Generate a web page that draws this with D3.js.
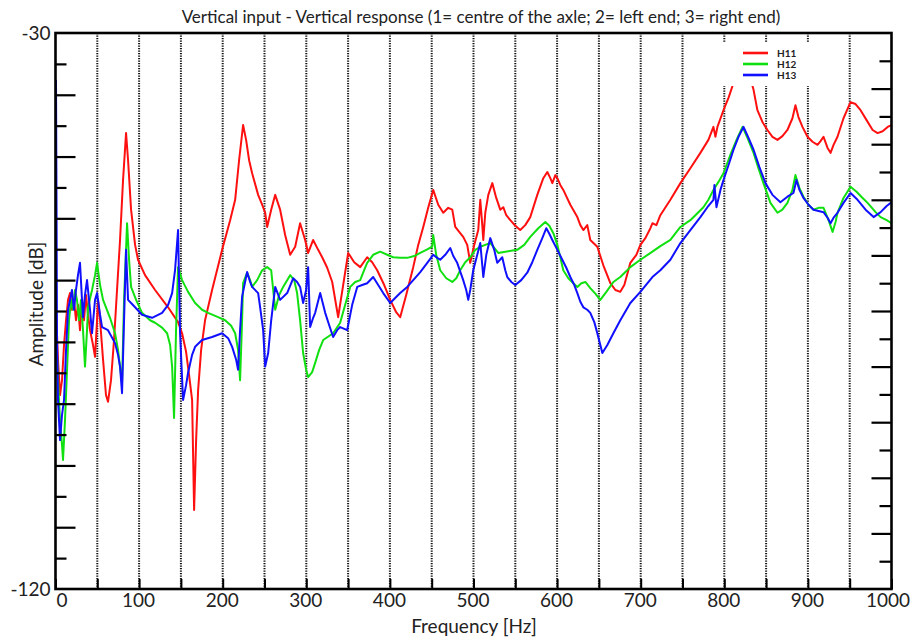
<!DOCTYPE html>
<html><head><meta charset="utf-8">
<script src="https://cdn.jsdelivr.net/npm/d3@7"></script>
<style>
html,body{margin:0;padding:0;background:#fff;}
svg{display:block;}
text{font-family:Lato,"Open Sans",sans-serif;fill:#222;}
</style></head>
<body>
<svg id="chart" width="921" height="637"></svg>
<script>
const title = "Vertical input - Vertical response (1= centre of the axle; 2= left end; 3= right end)";
const xLabel = "Frequency [Hz]";
const yLabel = "Amplitude [dB]";
const xDomain = [0, 1000];
const yDomain = [-120, -30];
const xTickLabels = [0,100,200,300,400,500,600,700,800,900,1000];
const yTickLabels = [-30, -120];
const seriesNames = ["H11","H12","H13"];
const seriesColors = ["#ff1010","#10e010","#1010ff"];

// [frequency Hz, amplitude dB]
const H11 = [[0.6,-74.8],[3.0,-82.9],[5.4,-88.6],[7.8,-86.2],[10.2,-80.5],[12.6,-76.5],[15.0,-73.2],[17.4,-72.1],[19.7,-74.8],[22.1,-73.2],[24.5,-76.5],[26.9,-74.0],[29.3,-78.1],[31.7,-73.2],[34.1,-76.5],[36.5,-72.4],[38.9,-75.6],[41.3,-78.1],[44.9,-80.5],[47.3,-82.4],[49.7,-76.5],[50.9,-73.2],[53.3,-76.5],[56.9,-82.9],[60.4,-88.6],[62.8,-89.7],[66.4,-86.2],[70.0,-79.7],[73.6,-71.6],[77.2,-63.5],[80.8,-53.8],[84.4,-46.2],[86.8,-50.6],[90.4,-58.6],[95.2,-64.3],[98.7,-66.7],[107.1,-69.2],[119.1,-71.6],[134.7,-74.4],[146.6,-76.8],[151.4,-78.6],[156.2,-81.6],[159.8,-85.4],[163.4,-89.4],[165.8,-107.2],[168.2,-95.9],[170.6,-87.8],[174.2,-81.3],[178.9,-76.5],[187.3,-71.6],[199.3,-65.1],[208.9,-60.3],[214.9,-57.0],[219.6,-50.6],[224.4,-44.9],[228.0,-47.3],[231.6,-50.6],[235.2,-52.7],[242.4,-56.2],[247.2,-57.8],[250.8,-59.1],[253.2,-61.4],[258.0,-58.6],[262.8,-56.2],[268.7,-58.6],[274.7,-62.7],[280.7,-65.9],[286.7,-64.6],[292.6,-60.8],[298.6,-63.5],[302.2,-65.6],[308.2,-63.5],[314.2,-65.1],[319.0,-66.3],[325.0,-68.0],[331.0,-70.3],[338.1,-76.0],[344.1,-70.8],[350.1,-65.6],[357.3,-67.1],[364.5,-67.9],[372.8,-66.3],[378.8,-67.1],[384.8,-68.4],[393.2,-70.8],[400.4,-73.2],[407.5,-75.2],[412.3,-76.0],[419.5,-72.4],[427.9,-67.9],[433.9,-64.3],[439.9,-61.4],[445.8,-58.3],[451.8,-55.4],[457.8,-57.8],[463.8,-59.1],[469.8,-58.3],[474.6,-58.6],[478.2,-61.4],[482.9,-62.2],[487.7,-63.0],[492.5,-64.3],[496.1,-67.2],[500.9,-64.3],[505.7,-61.9],[508.1,-57.0],[510.5,-61.1],[511.7,-63.5],[514.1,-59.1],[517.7,-56.2],[522.5,-54.3],[527.2,-56.7],[532.0,-58.6],[535.6,-58.2],[539.2,-59.5],[544.0,-60.3],[550.0,-61.2],[555.9,-61.9],[561.9,-61.1],[567.9,-59.8],[576.3,-56.2],[583.5,-53.5],[588.3,-52.5],[591.9,-53.5],[594.3,-54.3],[597.9,-53.0],[600.3,-53.5],[603.8,-54.6],[607.4,-55.4],[615.8,-57.8],[624.2,-59.8],[627.8,-61.1],[631.4,-61.9],[636.1,-61.1],[639.7,-63.5],[648.1,-64.6],[655.3,-67.6],[663.7,-70.5],[669.7,-71.6],[675.6,-71.9],[680.4,-70.8],[685.2,-68.4],[687.6,-67.2],[694.8,-65.9],[699.6,-64.3],[705.6,-63.2],[711.6,-61.6],[714.0,-60.8],[718.8,-61.1],[723.5,-59.5],[735.5,-57.0],[747.5,-54.3],[759.4,-51.9],[771.4,-49.4],[781.0,-47.3],[787.0,-45.2],[789.4,-46.8],[791.8,-45.2],[799.0,-42.5],[805.0,-40.5],[811.0,-38.1],[817.0,-35.7],[823.0,-34.7],[829.0,-36.3],[835.0,-39.2],[839.6,-42.5],[845.6,-44.4],[851.6,-45.7],[857.6,-46.8],[863.6,-47.3],[869.5,-46.7],[875.5,-45.7],[881.5,-43.8],[885.1,-41.7],[888.7,-43.6],[893.5,-45.2],[899.5,-46.8],[905.5,-47.6],[911.5,-48.1],[915.1,-47.5],[918.7,-46.8],[923.5,-48.6],[927.1,-49.4],[930.7,-48.1],[935.4,-46.8],[942.6,-43.8],[951.0,-41.2],[957.0,-41.5],[963.0,-42.5],[970.2,-44.1],[977.4,-45.7],[983.4,-46.2],[989.4,-45.9],[995.4,-45.2],[1000,-44.9]];

const H12 = [[0.6,-78.1],[3.0,-86.2],[5.4,-92.6],[7.8,-96.7],[9.0,-99.1],[11.4,-92.6],[13.8,-84.5],[16.2,-76.5],[18.6,-73.2],[20.9,-74.8],[23.3,-71.6],[25.7,-73.2],[28.1,-76.5],[30.5,-73.2],[32.9,-78.1],[35.3,-84.0],[37.7,-78.1],[38.9,-74.4],[43.7,-71.6],[47.3,-69.2],[49.7,-67.2],[53.3,-70.8],[56.9,-73.2],[60.4,-74.4],[65.2,-76.1],[71.2,-78.6],[74.8,-81.3],[79.6,-86.7],[82.0,-73.2],[85.6,-60.8],[88.0,-66.7],[90.4,-71.1],[96.4,-73.2],[103.5,-75.3],[113.1,-76.5],[119.1,-76.9],[127.5,-77.7],[133.5,-78.6],[137.1,-80.5],[139.5,-84.0],[141.8,-92.3],[144.2,-78.1],[146.6,-67.9],[151.4,-70.0],[158.6,-71.9],[167.0,-73.7],[175.3,-74.8],[182.5,-75.3],[194.5,-76.0],[202.9,-76.5],[210.1,-77.4],[214.9,-78.6],[218.4,-81.3],[220.8,-86.2],[223.2,-76.5],[224.4,-70.5],[229.2,-68.8],[232.8,-70.0],[235.2,-71.1],[241.2,-70.0],[247.2,-68.4],[253.2,-67.9],[258.0,-68.4],[262.8,-74.8],[267.5,-72.4],[272.3,-71.1],[280.7,-69.2],[285.5,-70.0],[289.0,-72.1],[292.6,-76.5],[296.2,-81.8],[299.8,-84.5],[302.2,-85.7],[307.0,-84.9],[310.6,-83.4],[315.4,-81.3],[320.2,-79.7],[332.1,-78.6],[340.5,-76.9],[346.5,-74.0],[352.5,-71.1],[358.5,-70.3],[364.5,-70.0],[369.2,-68.4],[372.8,-67.2],[380.0,-65.9],[388.4,-65.4],[396.8,-65.9],[404.0,-66.3],[412.3,-66.4],[420.7,-66.4],[429.1,-66.1],[436.3,-65.6],[443.5,-65.1],[450.6,-64.6],[451.8,-62.7],[455.4,-65.9],[460.2,-68.4],[467.4,-69.7],[474.6,-70.3],[479.4,-69.7],[484.1,-68.4],[490.1,-67.1],[496.1,-66.3],[502.1,-65.1],[508.1,-64.6],[514.1,-64.3],[520.1,-64.0],[524.8,-64.8],[529.6,-65.6],[538.0,-65.4],[552.4,-65.1],[560.7,-64.3],[567.9,-63.0],[577.5,-61.6],[585.9,-60.6],[590.7,-61.2],[595.5,-62.4],[600.3,-64.3],[603.8,-66.3],[607.4,-68.4],[613.4,-69.7],[619.4,-70.5],[624.2,-71.1],[629.0,-70.5],[633.8,-70.3],[639.7,-71.3],[645.7,-72.2],[651.7,-73.2],[658.9,-71.9],[667.3,-70.3],[675.6,-69.5],[687.6,-67.9],[699.6,-66.7],[714.0,-65.4],[723.5,-64.5],[735.5,-63.5],[747.5,-61.4],[759.4,-60.3],[775.0,-58.2],[781.0,-57.0],[787.0,-55.4],[793.0,-54.1],[799.0,-52.7],[807.4,-49.7],[814.6,-47.3],[821.8,-45.2],[827.8,-47.0],[835.0,-49.4],[840.8,-51.9],[846.8,-54.3],[855.2,-57.5],[863.6,-59.1],[869.5,-58.6],[875.5,-57.5],[881.5,-55.4],[885.1,-53.0],[889.9,-55.1],[894.7,-56.5],[900.7,-57.8],[906.7,-58.6],[912.7,-58.3],[918.7,-58.3],[924.7,-60.3],[929.5,-62.2],[933.1,-60.6],[935.4,-59.1],[942.6,-56.7],[951.0,-54.9],[958.2,-55.7],[965.4,-56.7],[971.4,-57.5],[981.0,-59.0],[987.0,-59.8],[994.2,-60.3],[1000,-60.8]];

const H13 = [[0.6,-37.6],[1.2,-57.0],[1.8,-79.7],[3.0,-89.4],[5.4,-95.9],[7.8,-91.8],[10.2,-89.4],[12.6,-81.3],[15.0,-74.8],[17.4,-73.2],[19.7,-71.6],[22.1,-74.8],[24.5,-71.6],[26.9,-69.2],[29.3,-67.2],[31.7,-73.2],[32.9,-76.0],[35.3,-72.4],[37.7,-70.0],[41.3,-74.8],[43.7,-78.6],[47.3,-73.2],[49.7,-72.1],[53.3,-75.6],[55.7,-77.6],[62.8,-78.1],[71.2,-80.2],[74.8,-82.1],[77.2,-84.0],[79.6,-88.3],[82.0,-76.5],[84.4,-65.1],[86.8,-73.2],[90.4,-73.7],[95.2,-74.4],[103.5,-75.6],[115.5,-76.1],[127.5,-75.3],[134.7,-74.0],[139.5,-72.1],[143.0,-68.4],[146.6,-61.9],[149.0,-78.6],[152.6,-89.4],[156.2,-87.0],[158.6,-85.0],[163.4,-82.1],[167.0,-80.8],[175.3,-79.7],[187.3,-79.2],[199.3,-78.6],[206.5,-79.4],[211.3,-80.8],[216.1,-82.9],[218.4,-84.5],[220.8,-78.1],[223.2,-72.7],[229.2,-68.7],[232.8,-70.3],[235.2,-71.1],[242.4,-72.1],[244.8,-74.4],[248.4,-78.1],[250.8,-84.0],[254.4,-81.8],[258.0,-76.5],[262.8,-71.1],[268.7,-73.2],[277.1,-72.1],[284.3,-69.7],[289.0,-70.3],[292.6,-71.1],[296.2,-73.7],[299.8,-71.6],[302.2,-67.9],[304.6,-77.6],[308.2,-76.1],[310.6,-75.3],[316.6,-72.1],[320.2,-74.0],[322.6,-75.3],[327.4,-77.3],[332.1,-79.2],[336.9,-78.1],[340.5,-77.6],[348.9,-78.1],[354.9,-74.0],[360.9,-71.1],[366.8,-70.8],[372.8,-70.5],[380.0,-69.5],[386.0,-70.8],[392.0,-72.1],[400.4,-73.7],[406.3,-72.9],[412.3,-72.1],[420.7,-71.1],[427.9,-70.0],[436.3,-68.7],[444.7,-67.2],[451.8,-65.9],[456.6,-66.4],[460.2,-66.7],[466.2,-65.9],[472.2,-64.8],[475.8,-66.1],[480.5,-67.2],[487.7,-70.0],[491.3,-71.6],[493.7,-73.2],[496.1,-71.6],[499.7,-68.4],[504.5,-65.9],[508.1,-64.0],[510.5,-67.6],[511.7,-69.5],[515.3,-65.9],[520.1,-63.2],[524.8,-65.1],[528.4,-67.2],[534.4,-66.3],[538.0,-68.4],[540.4,-69.5],[545.2,-70.3],[550.0,-70.8],[557.1,-70.0],[564.3,-68.8],[570.3,-67.1],[576.3,-65.1],[582.3,-63.2],[587.1,-61.6],[590.7,-62.5],[594.3,-63.5],[600.3,-65.1],[606.2,-66.7],[611.0,-68.0],[615.8,-69.5],[620.6,-70.8],[624.2,-72.1],[627.8,-73.5],[631.4,-74.4],[636.1,-74.8],[639.7,-75.3],[644.5,-76.8],[648.1,-78.6],[651.7,-80.5],[654.1,-81.8],[660.1,-80.5],[667.3,-78.6],[675.6,-76.5],[687.6,-73.7],[699.6,-71.9],[714.0,-69.5],[723.5,-68.4],[735.5,-66.7],[747.5,-64.0],[759.4,-61.9],[771.4,-59.8],[779.8,-58.2],[787.0,-57.0],[788.2,-54.6],[790.6,-58.2],[795.4,-55.4],[799.0,-53.8],[805.0,-51.4],[811.0,-48.9],[817.0,-46.8],[823.0,-45.2],[829.0,-47.0],[835.0,-48.9],[842.0,-51.7],[849.2,-54.3],[857.6,-56.2],[867.1,-57.4],[875.5,-56.5],[882.7,-55.9],[886.3,-53.8],[889.9,-55.4],[894.7,-56.7],[900.7,-57.8],[906.7,-58.6],[912.7,-58.8],[918.7,-59.0],[923.5,-59.9],[927.1,-60.8],[930.7,-59.9],[935.4,-59.1],[942.6,-57.5],[951.0,-55.9],[959.4,-57.0],[969.0,-58.6],[978.6,-59.8],[987.0,-59.0],[994.2,-58.0],[1000,-57.4]];

const seriesData = [H11, H12, H13];

const svg = d3.select("#chart");
const L = 55.5, R = 891.5, T = 33, B = 589;
const x = d3.scaleLinear().domain(xDomain).range([L, R]);
const y = d3.scaleLinear().domain(yDomain).range([B, T]);

svg.append("defs").append("clipPath").attr("id","clip")
  .append("rect").attr("x",L).attr("y",T).attr("width",R-L).attr("height",B-T);

// dotted vertical grid lines every 50 Hz
const gridVals = d3.range(50, 1000, 50);
svg.append("g").selectAll("line").data(gridVals).join("line")
  .attr("x1", d=>x(d)).attr("x2", d=>x(d)).attr("y1", T).attr("y2", B)
  .attr("stroke","#111").attr("stroke-width",2).attr("stroke-dasharray","1.3,1.2");

// curves
const line = d3.line().x(d=>x(d[0])).y(d=>y(d[1]));
const gc = svg.append("g").attr("clip-path","url(#clip)");
seriesData.forEach((s,i)=>{
  gc.append("path").datum(s).attr("d", line).attr("fill","none")
    .attr("stroke", seriesColors[i]).attr("stroke-width",2).attr("stroke-linejoin","round");
});

// bottom axis ticks (inward)
const xAxis = d3.axisBottom(x).tickValues(d3.range(0,1001,50)).tickSize(-10).tickPadding(4)
  .tickFormat(d => xTickLabels.includes(d) ? d : "");
const gx = svg.append("g").attr("transform",`translate(0,${B})`).call(xAxis);
gx.select(".domain").remove();
gx.selectAll(".tick line").attr("stroke","#000").attr("stroke-width",2);
gx.selectAll(".tick text").attr("font-size",19).attr("font-family","Lato").attr("fill","#222")
  .attr("dx", d => d===0 ? 6 : (d===1000 ? -4 : -1));

// left axis ticks
const yMajor = d3.range(-110, -30, 10);
const yMinor = d3.range(-115, -30, 10);
const gyl1 = svg.append("g").attr("transform",`translate(${L},0)`)
  .call(d3.axisLeft(y).tickValues(yMajor).tickSize(-20).tickFormat(""));
const gyl2 = svg.append("g").attr("transform",`translate(${L},0)`)
  .call(d3.axisLeft(y).tickValues(yMinor).tickSize(-11).tickFormat(""));
[gyl1,gyl2].forEach(g=>{g.select(".domain").remove(); g.selectAll(".tick line").attr("stroke","#000").attr("stroke-width",2.2);});

svg.append("g").selectAll("text").data(yTickLabels).join("text")
  .attr("x", L-5).attr("y", d=>y(d)).attr("dy","0.36em").attr("text-anchor","end")
  .attr("font-size",19).text(d=>d);

// right axis ticks (secondary scale, 20 divisions)
const yR = d3.scaleLinear().domain([0,20]).range([B,T]);
const gr1 = svg.append("g").attr("transform",`translate(${R},0)`)
  .call(d3.axisRight(yR).tickValues(d3.range(2,20,2)).tickSize(-20).tickFormat(""));
const gr2 = svg.append("g").attr("transform",`translate(${R},0)`)
  .call(d3.axisRight(yR).tickValues(d3.range(1,20,2)).tickSize(-12).tickFormat(""));
[gr1,gr2].forEach(g=>{g.select(".domain").remove(); g.selectAll(".tick line").attr("stroke","#000").attr("stroke-width",2.2);});

// frame
svg.append("rect").attr("x",L).attr("y",T).attr("width",R-L).attr("height",B-T)
  .attr("fill","none").attr("stroke","#000").attr("stroke-width",2.6);

// legend
const lg = svg.append("g");
lg.append("rect").attr("x",718).attr("y",43).attr("width",112).attr("height",43).attr("fill","#fff");
seriesNames.forEach((n,i)=>{
  const yy = 53 + i*11;
  lg.append("line").attr("x1",743).attr("x2",768).attr("y1",yy).attr("y2",yy)
    .attr("stroke",seriesColors[i]).attr("stroke-width",2.6);
  lg.append("text").attr("x",777).attr("y",yy).attr("dy","0.36em")
    .attr("font-family","'Liberation Sans',Arial,sans-serif").attr("font-weight","bold")
    .attr("font-size",10).attr("fill","#444").text(n);
});

// title and axis labels
svg.append("text").attr("x",481).attr("y",23).attr("text-anchor","middle")
  .attr("font-size",17).text(title);
svg.append("text").attr("x",474).attr("y",633).attr("text-anchor","middle")
  .attr("font-size",19).text(xLabel);
svg.append("text").attr("transform","translate(43,304) rotate(-90)").attr("text-anchor","middle")
  .attr("font-size",19).text(yLabel);
</script>
</body></html>
